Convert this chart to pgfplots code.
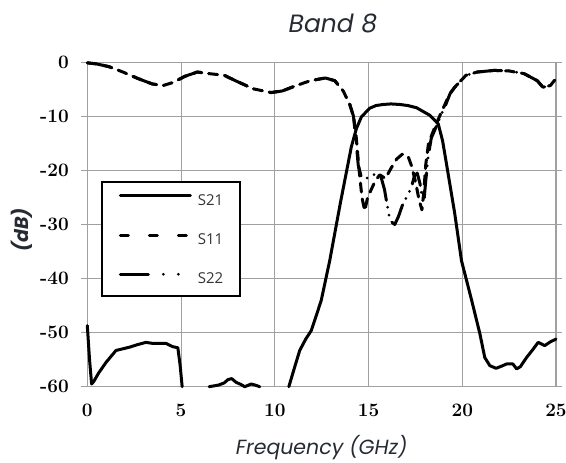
\documentclass[border=0pt]{standalone}
\usepackage{fontspec}
\usepackage{pgfplots}
\pgfplotsset{compat=1.18}
\newfontfamily\labelfont{Poppins}
\newfontfamily\legfont{Open Sans}
\definecolor{titlegray}{HTML}{262B33}
\definecolor{gridgray}{HTML}{A0A0A0}

\begin{document}
\begin{tikzpicture}
\path[use as bounding box] (-87.3pt,-76.3pt) rectangle (478.7pt,386.7pt);
\begin{axis}[
  scale only axis, width=468.7pt, height=324.4pt,
  xmin=0, xmax=25, ymin=-60, ymax=0,
  xtick={0,5,...,25}, ytick={-60,-50,...,0},
  clip=false,
  grid=major,
  major grid style={color=gridgray, line width=0.9pt},
  axis line style={color=gridgray, line width=1pt},
  tick align=outside,
  major tick length=6pt,
  xtick style={draw=none},
  ytick style={color=gridgray, line width=0.9pt},
  /pgf/number format/assume math mode=true,
  ticklabel style={font=\fontsize{19}{22}\selectfont\bfseries, text=black},
  xticklabel style={yshift=-8pt},
  yticklabel style={xshift=-9pt},
  title={Band 8},
  title style={font=\labelfont\itshape\fontsize{25}{29}\selectfont, text=titlegray,
    at={(rel axis cs:0.524,1)}, anchor=base, yshift=23.5pt},
  xlabel={Frequency (GHz)},
  xlabel style={font=\labelfont\itshape\fontsize{20.5}{24}\selectfont, text=titlegray,
    at={(rel axis cs:0.5,0)}, anchor=base, yshift=-68pt},
  ylabel={(dB)},
  ylabel style={font=\labelfont\bfseries\itshape\fontsize{19}{23}\selectfont, text=titlegray,
    at={([xshift=-65.3pt]rel axis cs:0,0.483)}, anchor=center},
  legend cell align=left,
  legend image code/.code={\draw[#1] (0pt,4pt) -- (70pt,4pt);},
  legend style={at={(rel axis cs:0.0294,0.634)}, anchor=north west,
    draw=black, line width=1.5pt, fill=white,
    inner xsep=17pt, inner ysep=12.5pt, row sep=28.5pt, column sep=6pt,
    nodes={inner sep=0pt, text height=10.5pt, text depth=0pt},
    font=\legfont\fontsize{15}{17}\selectfont, text=black!80},
  every axis plot/.append style={line width=3pt, black, line cap=round, line join=round},
]
\addlegendimage{solid}
\addlegendentry{S21}
\addlegendimage{dash pattern=on 8pt off 21pt}
\addlegendentry{S11}
\addlegendimage{dash pattern=on 28pt off 15pt on 0pt off 15pt on 0pt off 30pt}
\addlegendentry{S22}

% S21, transmission
\addplot[forget plot] coordinates {
 (0,-48.7) (0.12,-55) (0.23,-59.5) (0.35,-59) (0.6,-57.5) (1.0,-55.5) (1.53,-53.3)
 (2.24,-52.7) (2.7,-52.2) (3.13,-51.8) (3.5,-52.0) (3.85,-52.0) (4.2,-52) (4.56,-52.6)
 (4.83,-52.8) (4.95,-56) (5.06,-60)};
\addplot[forget plot] coordinates {
 (6.5,-60) (7.0,-59.7) (7.3,-59.3) (7.5,-58.7) (7.7,-58.5) (7.94,-59.2) (8.2,-59.6)
 (8.4,-60) (8.74,-59.5) (8.95,-59.7) (9.2,-60)};
\addplot[forget plot] coordinates {
 (10.75,-60) (11.05,-56.5) (11.33,-53.3) (11.65,-51.2) (11.95,-49.6) (12.2,-47)
 (12.48,-44) (12.93,-36.7) (13.5,-26) (14.08,-15.7) (14.35,-12.3) (14.62,-10.1)
 (15.06,-8.5) (15.4,-8.0) (15.78,-7.8) (16.2,-7.7) (16.67,-7.8) (17.1,-8.0)
 (17.56,-8.4) (18.27,-9.8) (18.72,-11.4) (18.95,-14.5) (19.16,-18.8) (19.6,-28)
 (19.96,-36.7) (20.5,-44) (20.94,-50.2) (21.2,-54.6) (21.47,-56.1) (21.8,-56.6)
 (22.1,-56.2) (22.36,-55.8) (22.7,-55.8) (22.9,-56.7) (23.1,-56.3) (23.43,-54.6)
 (23.75,-53.2) (24.05,-51.8) (24.4,-52.4) (24.7,-51.7) (25.0,-51.2)};

% S11, input reflection
\addplot[forget plot, dash pattern=on 9pt off 7pt] coordinates {
 (0,-0.1) (0.5,-0.3) (1.15,-0.8) (1.9,-1.8) (2.7,-3.0) (3.46,-4.0) (4.04,-4.3)
 (4.6,-3.7) (5.2,-2.6) (5.87,-1.8) (6.5,-2.1) (7.3,-2.4) (7.9,-3.4) (8.85,-4.9)
 (9.8,-5.6) (10.4,-5.3) (11.15,-4.3) (11.9,-3.4) (12.7,-2.9) (13.2,-3.4)
 (13.65,-5.3) (14.0,-7.8) (14.2,-10) (14.35,-14) (14.5,-20) (14.65,-25)
 (14.8,-27.5) (14.95,-25) (15.15,-23.5) (15.35,-22) (15.6,-20.8) (15.9,-21.5)
 (16.2,-19.6) (16.5,-17.9) (16.8,-17) (17.1,-17.3) (17.3,-19.2) (17.5,-22)
 (17.7,-25.5) (17.85,-27.3) (17.95,-24) (18.05,-19) (18.2,-15) (18.4,-13.2)
 (18.6,-11.5) (18.85,-9.5) (19.05,-8) (19.3,-6) (19.6,-4.6) (20.2,-2.4)
 (20.8,-1.8) (21.7,-1.5) (22.5,-1.6) (23.3,-2.1) (24.0,-3.4) (24.3,-4.6)
 (24.7,-4.3) (25,-3.0)};

% S22, output reflection
\addplot[forget plot, dash pattern=on 25pt off 7pt on 0pt off 8pt on 0pt off 8pt] coordinates {
 (0,-0.1) (0.5,-0.3) (1.15,-0.8) (1.9,-1.8) (2.7,-3.0) (3.46,-4.0) (4.04,-4.3)
 (4.6,-3.7) (5.2,-2.6) (5.87,-1.8) (6.5,-2.1) (7.3,-2.4) (7.9,-3.4) (8.85,-4.9)
 (9.8,-5.6) (10.4,-5.3) (11.15,-4.3) (11.9,-3.4) (12.7,-2.9) (13.2,-3.4)
 (13.65,-5.3) (14.0,-7.8) (14.2,-10) (14.35,-15) (14.45,-19) (14.6,-21)
 (14.8,-21.5) (15.1,-21.3) (15.4,-20.5) (15.65,-21) (15.85,-23.5) (16.0,-26.5)
 (16.15,-29.3) (16.4,-30) (16.6,-28.5) (16.8,-26.5) (17.1,-24.5) (17.3,-23)
 (17.45,-21) (17.6,-20.5) (17.75,-22.5) (17.85,-25) (17.95,-26) (18.05,-22)
 (18.2,-17) (18.35,-14) (18.6,-12) (18.9,-9.5) (19.1,-8) (19.35,-5.8)
 (19.6,-4.6) (20.2,-2.4) (20.8,-1.8) (21.7,-1.5) (22.5,-1.6) (23.3,-2.1)
 (24.0,-3.4) (24.3,-4.6) (24.7,-4.3) (25,-3.0)};
\end{axis}
\end{tikzpicture}
\end{document}
